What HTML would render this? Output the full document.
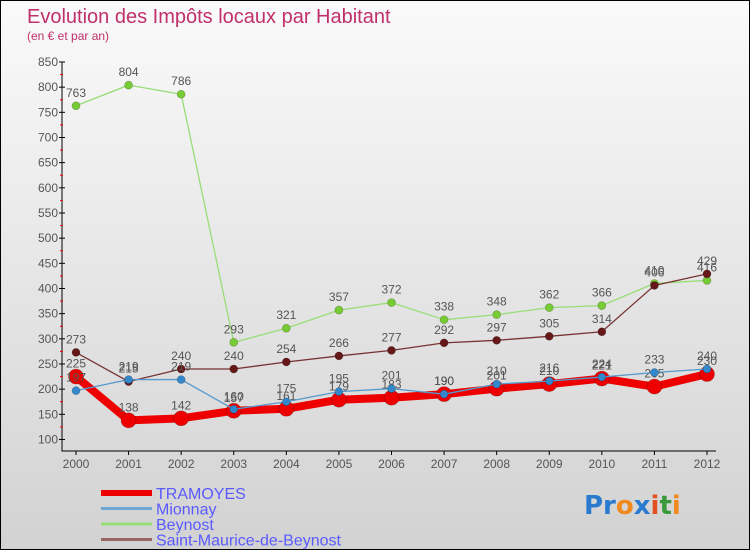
<!DOCTYPE html>
<html><head><meta charset="utf-8"><style>
body{margin:0;}
#c{width:750px;height:550px;position:relative;overflow:hidden;box-sizing:border-box;border:1px solid #000;background:linear-gradient(#fafafa,#d2d2d2);font-family:"Liberation Sans","DejaVu Sans",sans-serif;}
</style></head><body>
<div id="c">
<svg width="750" height="550" style="position:absolute;left:0;top:0" id="svg">
<text x="26" y="22" font-size="20" fill="#c0306a" font-family="Liberation Sans,sans-serif">Evolution des Impôts locaux par Habitant</text>
<text x="26" y="39" font-size="12" fill="#c0306a" font-family="Liberation Sans,sans-serif">(en € et par an)</text>
<g id="axes"></g><g id="series"></g><g id="legend"></g>
<g font-size="26" font-weight="bold" font-family="DejaVu Sans,sans-serif">
<text x="583" y="513"><tspan fill="#2a7bd0">Pr</tspan><tspan fill="#f08a1c">o</tspan><tspan fill="#2a7bd0">x</tspan><tspan fill="#e05020">i</tspan><tspan fill="#3a9a3a">t</tspan><tspan fill="#f08a1c">i</tspan></text>
</g>
</svg>
</div>
<script>
const years=[2000,2001,2002,2003,2004,2005,2006,2007,2008,2009,2010,2011,2012];
const tramoyes=[225,138,142,157,161,179,183,190,201,210,221,205,230];
const mionnay=[197,219,219,160,175,195,201,190,210,216,224,233,240];
const beynost=[763,804,786,293,321,357,372,338,348,362,366,410,416];
const stMaurice=[273,215,240,240,254,266,277,292,297,305,314,406,429];
const yTicks=[100,150,200,250,300,350,400,450,500,550,600,650,700,750,800,850];
const NS="http://www.w3.org/2000/svg";
function X(i){return 75+i*(706-75)/(years.length-1);}
function Y(v){return 61+(850-v)*0.5033;}
function mk(t,a,p){const e=document.createElementNS(NS,t);for(const k in a)e.setAttribute(k,a[k]);p.appendChild(e);return e;}
const ax=document.getElementById('axes');
let e=mk('line',{x1:61,y1:Y(850),x2:61,y2:Y(100)+12,stroke:'#000'},ax);

e=mk('line',{x1:61,y1:450,x2:715,y2:450,stroke:'#000'},ax);

yTicks.forEach(v=>{
 mk('line',{x1:58,y1:Y(v),x2:64,y2:Y(v),stroke:'#000'},ax);
 if(v<850){mk('line',{x1:59,y1:Y(v+25),x2:62,y2:Y(v+25),stroke:'#e00'},ax);}
 const t=mk('text',{x:57,y:Y(v)+4,'text-anchor':'end','font-size':12,fill:'#555'},ax);t.textContent=v;
 
});
years.forEach((y,i)=>{
 mk('line',{x1:X(i),y1:450,x2:X(i),y2:454,stroke:'#000'},ax);
 const t=mk('text',{x:X(i),y:467,'text-anchor':'middle','font-size':12,fill:'#555'},ax);t.textContent=y;
 
});
const sg=document.getElementById('series');
function series(name,vals,color,w,r,mcol){
 const g=mk('g',{},sg);
 
 mk('polyline',{points:vals.map((v,i)=>X(i)+','+Y(v)).join(' '),fill:'none',stroke:color,'stroke-width':w,'stroke-linejoin':'round'},g);
 vals.forEach((v,i)=>{
  const c=mk('circle',{cx:X(i),cy:Y(v),r:r,fill:mcol,stroke:'rgba(0,0,0,0.25)','stroke-width':0.7},g);
  
  const t=mk('text',{x:X(i),y:Y(v)-9,'text-anchor':'middle','font-size':12,fill:'#555'},g);t.textContent=v;
  
 });
}
series('beynost',beynost,'#99dd77',1.3,4,'#77cc33');
series('saint-maurice',stMaurice,'#773333',1.3,4,'#661818');
series('tramoyes',tramoyes,'#ee0000',8,7.5,'#ee0000');
series('mionnay',mionnay,'#5599cc',1.3,4,'#3388cc');
const lg=document.getElementById('legend');
[['TRAMOYES','#ee0000',6],['Mionnay','#6ea8d0',3],['Beynost','#99dd77',3],['Saint-Maurice-de-Beynost','#996666',3]].forEach((d,i)=>{
 const yy=492+i*15.5;
 const g=mk('g',{},lg);
 
 mk('line',{x1:100,y1:yy,x2:151,y2:yy,stroke:d[1],'stroke-width':d[2]},g);
 const t=mk('text',{x:155,y:yy+6,'font-size':16,fill:'#5a5aff'},g);t.textContent=d[0];
});
</script>
</body></html>
